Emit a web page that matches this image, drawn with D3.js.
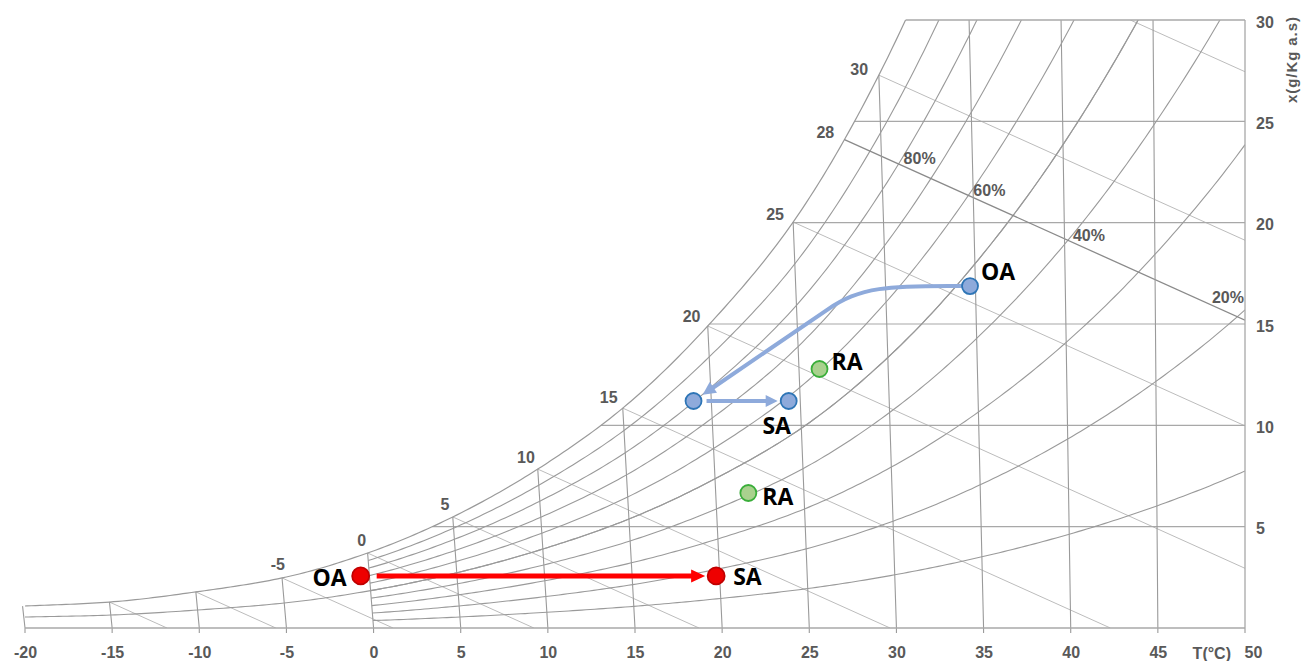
<!DOCTYPE html>
<html>
<head>
<meta charset="utf-8">
<script src="https://cdn.jsdelivr.net/npm/d3@7"></script>
<style>
  html, body { margin: 0; padding: 0; background: #fff; }
  svg { display: block; }
  .tick-label { font-family: "Liberation Sans", Arial, sans-serif; font-weight: 700; font-size: 16px; fill: #595959; }
  .state-label { font-family: "Open Sans", "Liberation Sans", sans-serif; font-weight: 700; font-size: 23px; fill: #000; }
</style>
</head>
<body>
<svg id="chart" width="1301" height="661"></svg>
<script>
// ---- chart data ---------------------------------------------------------
// saturation humidity ratio (g/kg dry air) at each 5 °C step
const satTemps = [-20, -15, -10, -5, 0, 5, 10, 15, 20, 25, 30, 35, 40, 45, 50];
const satX     = [1.08, 1.28, 1.78, 2.47, 3.70, 5.48, 7.84, 10.85, 14.9, 20.03, 27.28, 37.0, 49.6, 66.0, 87.3];

const rhLevels = [0.1, 0.2, 0.3, 0.4, 0.5, 0.6, 0.7, 0.8, 0.9];   // drawn from 0 °C
const rhFrostLevels = [0.5];                                      // continued below 0 °C
const rhLabelLevels = [0.8, 0.6, 0.4, 0.2];

const isotherms = [-20, -15, -10, -5, 0, 5, 10, 15, 20, 25, 30, 35, 40, 45];
const wetBulbLines = [-15, -10, -5, 0, 5, 10, 15, 20, 25, 30];
const wetBulbLabels = [-5, 0, 5, 10, 15, 20, 25, 30];
const referenceWetBulb = 28;          // line carrying the RH labels
const extraEnthalpyLines = [121.5];   // kJ/kg, upper right corner

const tempTicks = [-20, -15, -10, -5, 0, 5, 10, 15, 20, 25, 30, 35, 40, 45, 50];
const humidityTicks = [5, 10, 15, 20, 25, 30];

// air states: dry-bulb t (°C), humidity ratio x (g/kg)
const winterStates = [
  { id: "wOA", name: "OA", t: -0.5, x: 2.57 },
  { id: "wSA", name: "SA", t: 19.8, x: 2.57 }
];
const summerStates = [
  { id: "sOA", name: "OA", t: 34.7, x: 16.87 },
  { id: "sCO", name: "",   t: 19.0, x: 11.2 },
  { id: "sSA", name: "SA", t: 24.35, x: 11.2 }
];
const returnStates = [
  { id: "rS", name: "RA", t: 26.15, x: 12.78 },
  { id: "rW", name: "RA", t: 21.85, x: 6.66 }
];
// bend of the cooling process line
const coolingKnee = { t: 26.7, x: 15.7 };

// ---- scales and psychrometric helpers ------------------------------------
const T_MIN = -20, T_MAX = 50, X_MAX = 30;
const U = d3.scaleLinear().domain([T_MIN, T_MAX]).range([25, 1245]);
const Y = d3.scaleLinear().domain([0, X_MAX]).range([628, 20]);

// Mollier skew: isotherms lean with vapour content, vertical at T_MAX
const skewU = (t, x) => t + x * 1.86 * (t - T_MAX) / 1006;
const hOf = (t, x) => 1.006 * t + x * (2.501 + 0.00186 * t);
const H_X = 2.501 + 0.00186 * T_MAX;            // enthalpy slope in skewed coords
const hOfU = (u, x) => 1.006 * u + H_X * x;
const px = (t, x) => [U(skewU(t, x)), Y(x)];
const pu = (u, x) => [U(u), Y(x)];

// ps/p from the saturation table, cubic Hermite in log space
const lnR = satX.map(x => Math.log(x / (622 + x)));
const lnSlope = lnR.map((v, i) =>
  i === 0 ? lnR[1] - lnR[0] :
  i === lnR.length - 1 ? lnR[i] - lnR[i - 1] :
  (lnR[i + 1] - lnR[i - 1]) / 2);
function satRatio(t) {
  const step = satTemps[1] - satTemps[0];
  let i = Math.floor((t - satTemps[0]) / step);
  i = Math.max(0, Math.min(satTemps.length - 2, i));
  const s = (t - satTemps[i]) / step, s2 = s * s, s3 = s2 * s;
  return Math.exp((2 * s3 - 3 * s2 + 1) * lnR[i] + (s3 - 2 * s2 + s) * lnSlope[i] +
                  (-2 * s3 + 3 * s2) * lnR[i + 1] + (s3 - s2) * lnSlope[i + 1]);
}
const humidity = (t, phi) => { const r = phi * satRatio(t); return 622 * r / (1 - r); };

function bisect(f, a, b) {
  let fa = f(a);
  for (let k = 0; k < 60; k++) {
    const m = (a + b) / 2, fm = f(m);
    if ((fm > 0) === (fa > 0)) { a = m; fa = fm; } else { b = m; }
  }
  return (a + b) / 2;
}
const satTempFor = x => bisect(t => humidity(t, 1) - x, T_MIN, T_MAX);

// ---- drawing -------------------------------------------------------------
const svg = d3.select("#chart");
svg.append("rect").attr("width", 1301).attr("height", 661).attr("fill", "#fff");

svg.append("defs").append("clipPath").attr("id", "plot")
  .append("rect")
  .attr("x", U(T_MIN)).attr("y", Y(X_MAX))
  .attr("width", U(T_MAX) - U(T_MIN)).attr("height", Y(0) - Y(X_MAX));

const grid = svg.append("g").attr("fill", "none").attr("clip-path", "url(#plot)");
const line = d3.line();
const GRID = "#9a9a9a", LIGHT = "#bcbcbc";

// enthalpy / wet-bulb lines
function enthalpyEnd(h) {
  const u0 = h / 1.006;
  return u0 <= T_MAX ? [u0, 0] : [T_MAX, (h - 1.006 * T_MAX) / H_X];
}
wetBulbLines.forEach(tw => {
  const x0 = humidity(tw, 1), u0 = skewU(tw, x0);
  const [u1, x1] = enthalpyEnd(hOfU(u0, x0));
  grid.append("path").attr("d", line([pu(u0, x0), pu(u1, x1)]))
    .attr("stroke", LIGHT).attr("stroke-width", 1);
});
extraEnthalpyLines.forEach(h => {
  const u0 = (h - H_X * X_MAX) / 1.006;
  const [u1, x1] = enthalpyEnd(h);
  grid.append("path").attr("d", line([pu(u0, X_MAX), pu(u1, x1)]))
    .attr("stroke", LIGHT).attr("stroke-width", 1);
});

// constant humidity-ratio lines
humidityTicks.filter(v => v < X_MAX).forEach(v => {
  const ts = satTempFor(v);
  grid.append("path").attr("d", line([px(ts, v), pu(T_MAX, v)]))
    .attr("stroke", "#a8a8a8").attr("stroke-width", 1.2);
});

// relative humidity curves
function rhPath(phi, t0) {
  const pts = [];
  for (let t = t0; t <= T_MAX + 1e-9; t += 0.25) {
    const x = humidity(t, phi);
    pts.push(px(t, x));
    if (x > X_MAX) break;
  }
  return line(pts);
}
rhLevels.forEach(phi => grid.append("path").attr("d", rhPath(phi, 0))
  .attr("stroke", GRID).attr("stroke-width", 1.1));
rhFrostLevels.forEach(phi => grid.append("path").attr("d", rhPath(phi, T_MIN))
  .attr("stroke", GRID).attr("stroke-width", 1.1));
grid.append("path").attr("d", rhPath(1, T_MIN)).attr("stroke", GRID).attr("stroke-width", 1.2);

// reference wet-bulb line
const refX0 = humidity(referenceWetBulb, 1), refU0 = skewU(referenceWetBulb, refX0);
const refH = hOfU(refU0, refX0);
const refEnd = enthalpyEnd(refH);
grid.append("path").attr("d", line([pu(refU0, refX0), pu(refEnd[0], refEnd[1])]))
  .attr("stroke", "#8a8a8a").attr("stroke-width", 1.3);

// isotherms, running down past the axis as ticks
const frame = svg.append("g").attr("fill", "none");
isotherms.forEach(t => {
  const xs = Math.min(humidity(t, 1), X_MAX);
  const top = px(t, xs);
  frame.append("path").attr("d", line([[U(t), Y(0) + 5], px(t, 0), top]))
    .attr("stroke", GRID).attr("stroke-width", 1.1);
});
// frame: bottom, right border, top border
frame.append("path").attr("d", line([pu(T_MIN, 0), pu(T_MAX, 0)]))
  .attr("stroke", "#a8a8a8").attr("stroke-width", 1.3);
frame.append("path").attr("d", line([[U(T_MAX), Y(0) + 5], pu(T_MAX, X_MAX)]))
  .attr("stroke", "#a8a8a8").attr("stroke-width", 1.3);
frame.append("path").attr("d", line([px(satTempFor(X_MAX), X_MAX), pu(T_MAX, X_MAX)]))
  .attr("stroke", "#a8a8a8").attr("stroke-width", 1.3);

// axes
const xAxis = svg.append("g").attr("transform", `translate(0,${Y(0)})`)
  .call(d3.axisBottom(U).tickValues(tempTicks).tickSize(0).tickPadding(19)
    .tickFormat(d => String(d)));
xAxis.select(".domain").remove();
xAxis.selectAll("text").attr("class", "tick-label").attr("fill", null);
xAxis.selectAll(".tick").filter(d => d === T_MAX).select("text")
  .attr("text-anchor", "start").attr("x", -1);
svg.append("text").attr("class", "tick-label")
  .attr("x", U(T_MAX) - 14).attr("y", Y(0) + 30.5).attr("text-anchor", "end")
  .text("T(°C)");

const yAxis = svg.append("g").attr("transform", `translate(${U(T_MAX)},0)`)
  .call(d3.axisRight(Y).tickValues(humidityTicks).tickSize(0).tickPadding(11)
    .tickFormat(d => String(d)));
yAxis.select(".domain").remove();
yAxis.selectAll("text").attr("class", "tick-label").attr("fill", null).attr("dy", "0.45em");
svg.append("text").attr("class", "tick-label")
  .style("font-size", "15px")
  .attr("transform", `translate(${U(T_MAX) + 47},60) rotate(-90)`)
  .attr("text-anchor", "middle").attr("dy", "0.35em")
  .attr("textLength", 86).attr("lengthAdjust", "spacing")
  .text("x(g/Kg a.s)");

// wet-bulb labels along the saturation curve
function satLabel(t, text) {
  const p = px(t, humidity(t, 1));
  const a = px(t - 0.5, humidity(t - 0.5, 1)), b = px(t + 0.5, humidity(t + 0.5, 1));
  const len = Math.hypot(b[0] - a[0], b[1] - a[1]);
  const tx = (b[0] - a[0]) / len, ty = (b[1] - a[1]) / len;
  const nx = ty, ny = -tx;                    // normal pointing up-left
  const lbl = svg.append("text").attr("class", "tick-label")
    .attr("text-anchor", "middle").attr("dy", "0.36em").text(text);
  const w = lbl.node().getComputedTextLength();
  lbl.attr("x", p[0] + nx * 14 - 0.45 * w * Math.abs(nx))
     .attr("y", p[1] + ny * 14);
}
wetBulbLabels.forEach(t => satLabel(t, String(t)));
satLabel(referenceWetBulb, String(referenceWetBulb));

// RH labels sitting on the reference wet-bulb line
const refLineY = xp => {
  const u = U.invert(xp);
  return Y((refH - 1.006 * u) / H_X);
};
rhLabelLevels.forEach(phi => {
  const t = bisect(tt => hOf(tt, humidity(tt, phi)) - refH, 0, T_MAX);
  const c = px(t, humidity(t, phi));
  const lbl = svg.append("text").attr("class", "tick-label")
    .text(Math.round(phi * 100) + "%");
  const w = lbl.node().getComputedTextLength();
  const x0 = Math.min(c[0] + 5, U(T_MAX) - w - 1);
  lbl.attr("x", x0).attr("y", refLineY(x0) - 2);
});

// ---- processes -----------------------------------------------------------
const marks = svg.append("g");
function arrowHead(tip, dir, len, width, color) {
  const [dx, dy] = dir, bx = tip[0] - dx * len, by = tip[1] - dy * len;
  marks.append("path")
    .attr("d", line([tip, [bx - dy * width / 2, by + dx * width / 2], [bx + dy * width / 2, by - dx * width / 2]]) + "Z")
    .attr("fill", color);
}
function straightArrow(a, b, startGap, tipGap, color, sw, hl, hw) {
  const p = px(a.t, a.x), q = px(b.t, b.x);
  const L = Math.hypot(q[0] - p[0], q[1] - p[1]);
  const d = [(q[0] - p[0]) / L, (q[1] - p[1]) / L];
  const s = [p[0] + d[0] * startGap, p[1] + d[1] * startGap];
  const tip = [q[0] - d[0] * tipGap, q[1] - d[1] * tipGap];
  const e = [tip[0] - d[0] * hl * 0.7, tip[1] - d[1] * hl * 0.7];
  marks.append("path").attr("d", line([s, e])).attr("stroke", color)
    .attr("stroke-width", sw).attr("fill", "none");
  arrowHead(tip, d, hl, hw, color);
}

const RED = "#ff0000", BLUE_LINE = "#8eaadb";
straightArrow(winterStates[0], winterStates[1], 16, 11, RED, 5, 14, 13);
straightArrow(summerStates[1], summerStates[2], 13, 11, BLUE_LINE, 4, 12, 12);

// cooling line: level run out of OA, bending into a straight run to the coil point
{
  const p0 = px(summerStates[0].t, summerStates[0].x);
  const k = px(coolingKnee.t, coolingKnee.x);
  const q = px(summerStates[1].t, summerStates[1].x);
  const L = Math.hypot(q[0] - k[0], q[1] - k[1]);
  const d = [(q[0] - k[0]) / L, (q[1] - k[1]) / L];
  const tip = [q[0] - d[0] * 11, q[1] - d[1] * 11];
  const e = [tip[0] - d[0] * 9, tip[1] - d[1] * 9];
  const path = d3.path();
  path.moveTo(p0[0], p0[1]);
  path.bezierCurveTo(p0[0] - 85, p0[1] - 1, k[0] - d[0] * 40, k[1] - d[1] * 40, k[0], k[1]);
  path.lineTo(e[0], e[1]);
  marks.append("path").attr("d", path.toString()).attr("stroke", BLUE_LINE)
    .attr("stroke-width", 4).attr("fill", "none");
  arrowHead(tip, d, 13, 13, BLUE_LINE);
}

// state points
const stateStyle = {
  winter: { fill: "#ee0000", stroke: "#c00000", r: 8.5 },
  summer: { fill: "#8eaadb", stroke: "#2e75b6", r: 8 },
  ret:    { fill: "#a9d18e", stroke: "#3aae3a", r: 8 }
};
const labelPlace = {
  wOA: { dx: -14, dy: 10, anchor: "end" },
  wSA: { dx: 17, dy: 9, anchor: "start" },
  sOA: { dx: 11, dy: -6, anchor: "start" },
  sSA: { dx: -12, dy: 33, anchor: "middle" },
  rS:  { dx: 12, dy: 1, anchor: "start" },
  rW:  { dx: 14, dy: 12, anchor: "start" }
};
function drawStates(states, style) {
  states.forEach(s => {
    const p = px(s.t, s.x);
    marks.append("circle").attr("cx", p[0]).attr("cy", p[1]).attr("r", style.r)
      .attr("fill", style.fill).attr("stroke", style.stroke).attr("stroke-width", 1.8);
    if (s.name) {
      const pl = labelPlace[s.id];
      marks.append("text").attr("class", "state-label")
        .attr("x", p[0] + pl.dx).attr("y", p[1] + pl.dy)
        .attr("text-anchor", pl.anchor).text(s.name);
    }
  });
}
drawStates(winterStates, stateStyle.winter);
drawStates(summerStates, stateStyle.summer);
drawStates(returnStates, stateStyle.ret);
</script>
</body>
</html>
